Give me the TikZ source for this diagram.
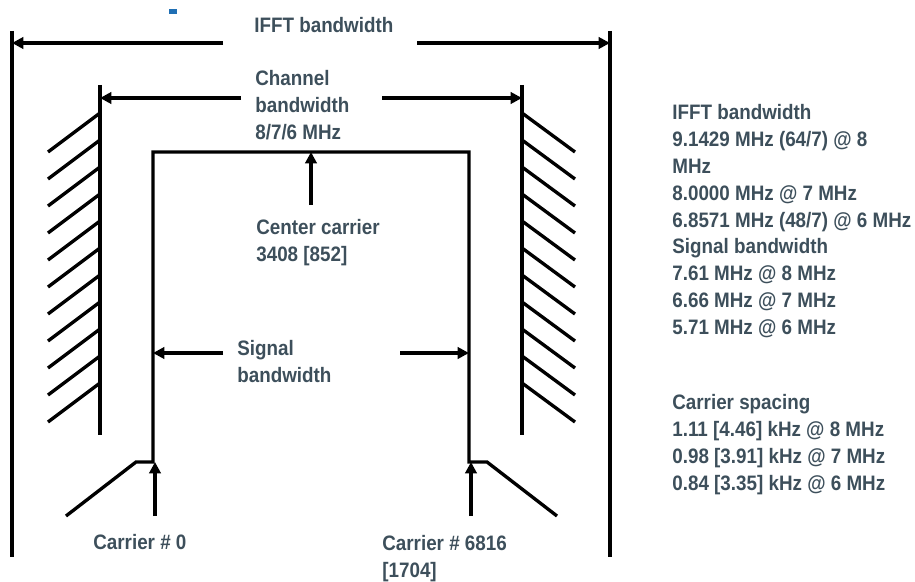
\documentclass[tikz,border=0pt]{standalone}
\usepackage{fontspec}
\setmainfont[FakeStretch=0.9]{Liberation Sans}
\usepackage{xcolor}
\usetikzlibrary{arrows.meta}
\definecolor{textgray}{HTML}{3D4F5B}
\definecolor{markblue}{HTML}{1F6FB4}

\begin{document}
\begin{tikzpicture}[
    x=0.02cm, y=-0.02cm,
    every node/.style={font=\fontsize{11.9}{15.3}\selectfont\bfseries, text=textgray, inner sep=0pt, align=left},
    edge/.style={line width=1.9pt},
    arr/.style={edge, -{Triangle[length=6.5pt,width=6.5pt]}}
]
\useasboundingbox (0,0) rectangle (915,581);
\fill[markblue] (169,9) rectangle (177,14);

% band edges
\coordinate (ifftL) at (12,43);
\coordinate (ifftR) at (610,43);
\coordinate (chanL) at (100,98);
\coordinate (chanR) at (522,98);
\coordinate (sigL) at (153,353);
\coordinate (sigR) at (469,353);
\coordinate (top) at (311,152);
\coordinate (car0) at (155,462);
\coordinate (carN) at (471,462);

\draw[edge] (12,31) -- (12,557);
\draw[edge] (610,31) -- (610,557);
\draw[edge] (100,85) -- (100,435);
\draw[edge] (522,85) -- (522,435);
\foreach \y in {113,140,...,383} {
    \draw[edge] (100,\y) -- ++(-52,39);
    \draw[edge] (522,\y) -- ++(53,39);
}

% spectrum
\draw[edge] (66,516) -- (136,462) -- (153,462) -- (153,152) -- (469,152)
    -- (469,462) -- (487,462) -- (557,516);

% labels
\node[anchor=west] (ifft) at (254,25) {IFFT bandwidth};
\node[anchor=north west] (chan) at (255,70) {Channel\\bandwidth\\8/7/6 MHz};
\node[anchor=north west] (center) at (256,219) {Center carrier\\3408 [852]};
\node[anchor=north west] (sig) at (237,340) {Signal\\bandwidth};
\node[anchor=west] (c0) at (93,542) {Carrier \# 0};
\node[anchor=north west] (cN) at (382,535) {Carrier \# 6816\\{[1704]}};

\node[anchor=north west] (info) at (672,104) {IFFT bandwidth\\9.1429 MHz (64/7) @ 8\\MHz\\8.0000 MHz @ 7 MHz\\6.8571 MHz (48/7) @ 6 MHz\\Signal bandwidth\\7.61 MHz @ 8 MHz\\6.66 MHz @ 7 MHz\\5.71 MHz @ 6 MHz};
\node[anchor=north west] (spacing) at (672,394) {Carrier spacing\\1.11 [4.46] kHz @ 8 MHz\\0.98 [3.91] kHz @ 7 MHz\\0.84 [3.35] kHz @ 6 MHz};

% arrows
\draw[arr] (223,43) -- (ifftL);
\draw[arr] (417,43) -- (ifftR);
\draw[arr] (241,98) -- (chanL);
\draw[arr] (382,98) -- (chanR);
\draw[arr] (223,353) -- (sigL);
\draw[arr] (400,353) -- (sigR);
\draw[arr] (311,205) -- (top);
\draw[arr] (155,516) -- (car0);
\draw[arr] (471,516) -- (carN);
\end{tikzpicture}
\end{document}
